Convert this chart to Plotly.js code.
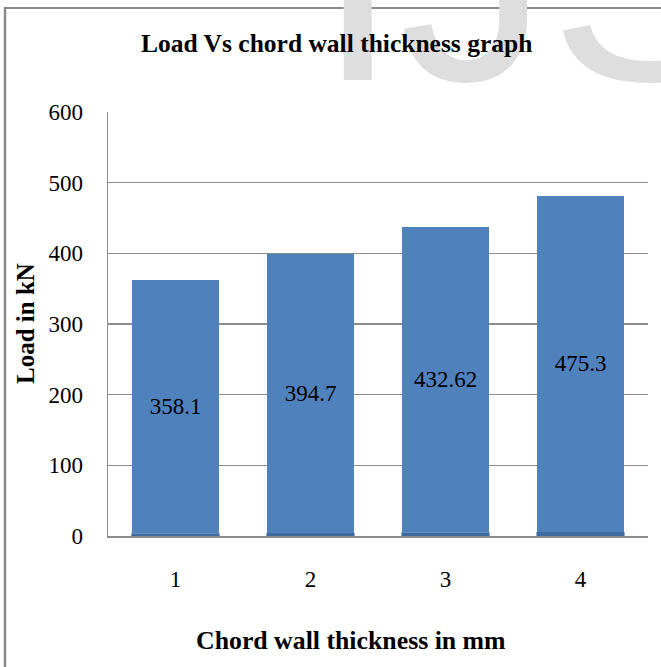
<!DOCTYPE html>
<html>
<head>
<meta charset="utf-8">
<script src="https://cdn.plot.ly/plotly-3.0.1.min.js"></script>
<style>
  html, body { margin: 0; padding: 0; background: #ffffff; }
  #chart { width: 661px; height: 667px; }
</style>
</head>
<body>
<div id="chart"></div>
<script>
// Chord wall thickness categories and measured loads
const categories = ['1', '2', '3', '4'];
const thicknessValues = [4, 4.5, 5, 6];
const loadValues = [358.1, 394.7, 432.62, 475.3];
const yTickValues = [0, 100, 200, 300, 400, 500, 600];

// plot area in pixels
const W = 661, H = 667;
const PL = 108, PR = 648, PT = 112, PB = 536;
const px = x => (x - PL) / (PR - PL);
const py = y => (PB - y) / (PB - PT);

const serif = 'Liberation Serif';

const traces = [
  {
    type: 'bar',
    name: 'Thickness',
    x: categories,
    y: thicknessValues,
    marker: { color: '#3e6a9e', line: { color: '#6f98c9', width: 0.8 } },
    hoverinfo: 'skip'
  },
  {
    type: 'bar',
    name: 'Load',
    x: categories,
    y: loadValues,
    marker: { color: '#4f81bd', line: { width: 0 } },
    texttemplate: '%{y}',
    textposition: 'inside',
    insidetextanchor: 'middle',
    constraintext: 'none',
    textfont: { family: serif, size: 23, color: '#000000' },
    insidetextfont: { family: serif, size: 23, color: '#000000' },
    hoverinfo: 'skip'
  }
];

const layout = {
  width: W,
  height: H,
  margin: { l: PL, r: W - PR, t: PT, b: H - PB, pad: 0 },
  paper_bgcolor: '#ffffff',
  plot_bgcolor: '#ffffff',
  font: { family: serif, color: '#000000' },
  barmode: 'stack',
  bargap: 0.355,
  showlegend: false,
  xaxis: {
    type: 'category',
    showgrid: false,
    zeroline: false,
    showline: true,
    linecolor: '#8c8c8c',
    linewidth: 2,
    ticks: '',
    ticklabelstandoff: 21,
    tickfont: { family: serif, size: 23, color: '#000000' }
  },
  yaxis: {
    range: [0, 600],
    tickvals: yTickValues,
    ticktext: yTickValues.map(String),
    showgrid: true,
    gridcolor: '#8c8c8c',
    gridwidth: 1.3,
    zeroline: false,
    showline: true,
    linecolor: '#8c8c8c',
    linewidth: 1.3,
    ticks: '',
    ticklabelstandoff: 19,
    tickfont: { family: serif, size: 23, color: '#000000' }
  },
  annotations: [
    // background watermark, listed first so the chart title sits on top of it
    {
      text: 'IJSER',
      xref: 'paper', yref: 'paper',
      x: px(314), xanchor: 'left',
      y: py(80), yanchor: 'bottom',
      yshift: -66,
      showarrow: false,
      font: { family: 'Liberation Sans', size: 300, color: '#dedede' }
    },
    // chart title
    {
      text: '<b>Load Vs chord wall thickness graph</b>',
      xref: 'paper', yref: 'paper',
      x: px(336), y: py(44),
      xanchor: 'center', yanchor: 'middle',
      showarrow: false,
      font: { family: serif, size: 25.5, color: '#000000' }
    },
    {
      text: '<b>Load in kN</b>',
      xref: 'paper', yref: 'paper',
      x: px(25), y: py(324),
      xanchor: 'center', yanchor: 'middle',
      textangle: -90,
      showarrow: false,
      font: { family: serif, size: 25, color: '#000000' }
    },
    {
      text: '<b>Chord wall thickness in mm</b>',
      xref: 'paper', yref: 'paper',
      x: px(351), y: py(640),
      xanchor: 'center', yanchor: 'middle',
      showarrow: false,
      font: { family: serif, size: 25.8, color: '#000000' }
    }
  ],
  shapes: [
    // outer chart frame: left and top edges
    { type: 'line', xref: 'paper', yref: 'paper', x0: px(5), x1: px(5), y0: py(8), y1: py(H + 2),
      line: { color: '#8a8a8a', width: 2.5 }, layer: 'above' },
    { type: 'line', xref: 'paper', yref: 'paper', x0: px(4), x1: px(W + 2), y0: py(8), y1: py(8),
      line: { color: '#8a8a8a', width: 1.8 }, layer: 'above' }
  ]
};

Plotly.newPlot('chart', traces, layout, { staticPlot: true, displayModeBar: false });
</script>
</body>
</html>
